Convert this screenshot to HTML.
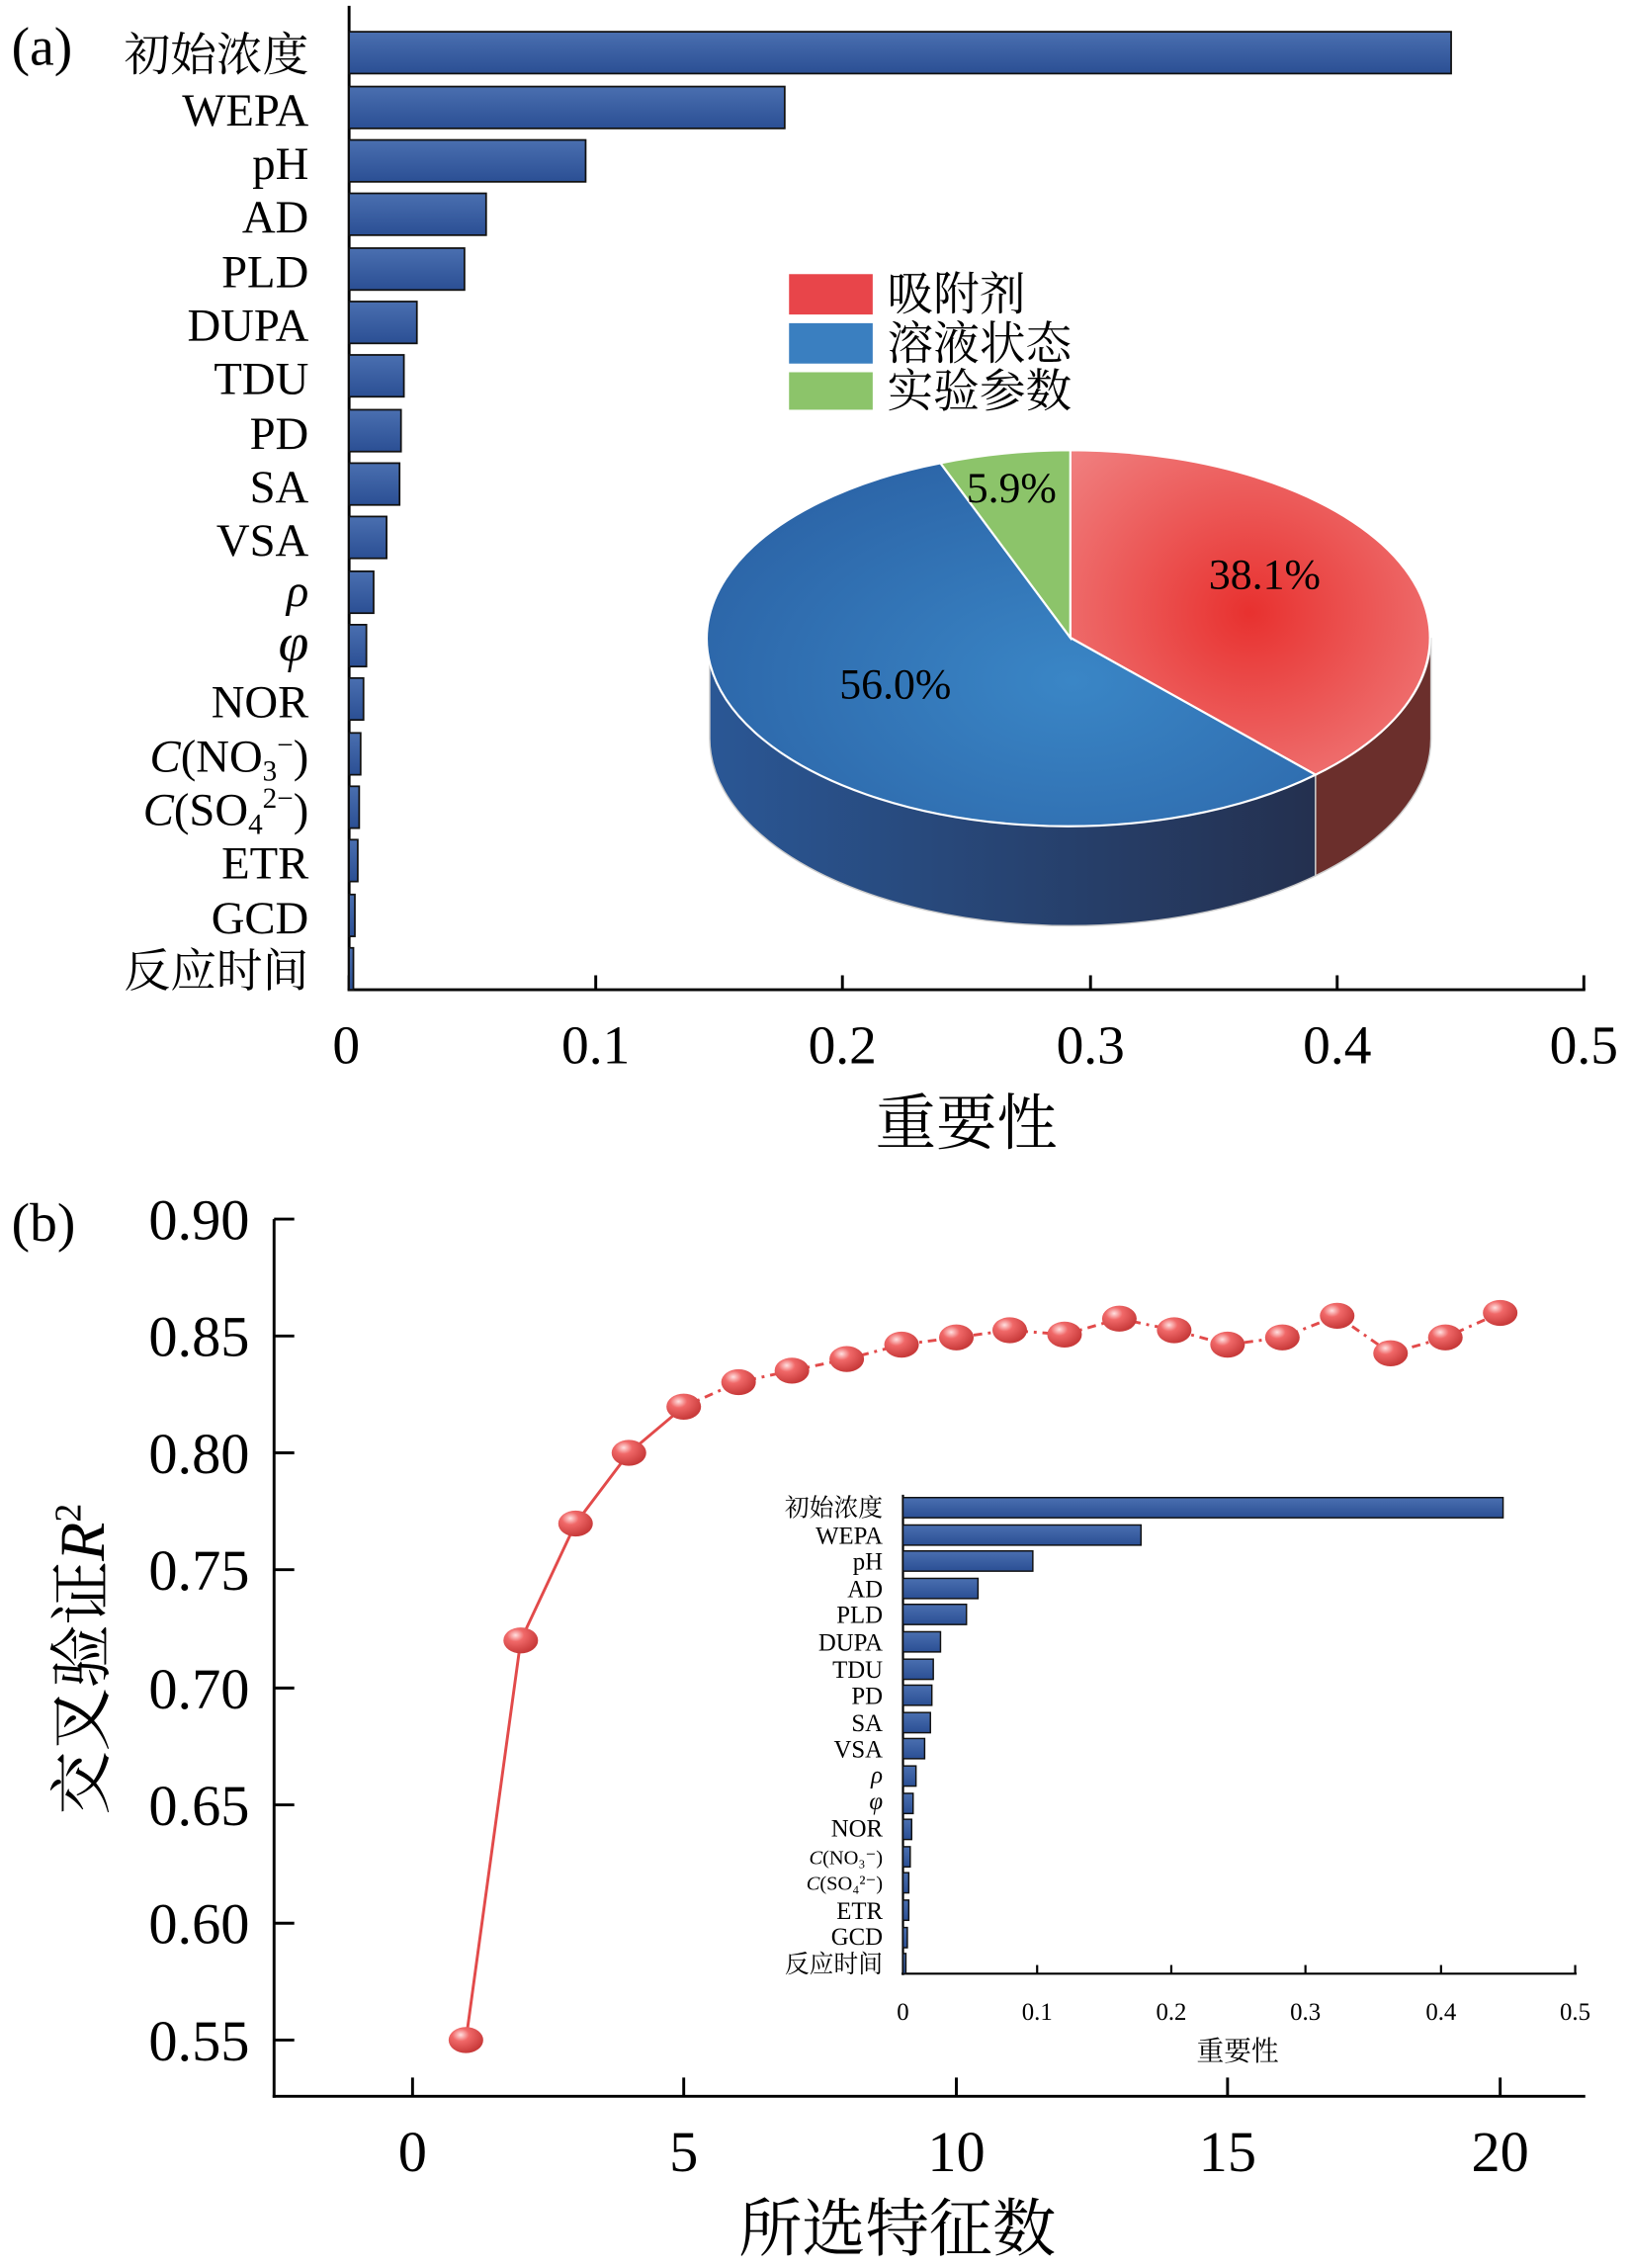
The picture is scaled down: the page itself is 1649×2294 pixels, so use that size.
<!DOCTYPE html>
<html><head><meta charset="utf-8"><style>html,body{margin:0;padding:0;background:#fff}svg{display:block}</style></head><body>
<svg width="1649" height="2294" viewBox="0 0 1130 1572" preserveAspectRatio="none" xmlns="http://www.w3.org/2000/svg" font-family="'Liberation Serif','Noto Serif CJK SC',serif">
<defs>
<linearGradient id="bar" x1="0" y1="0" x2="0" y2="1"><stop offset="0" stop-color="#4a6fb0"/><stop offset="1" stop-color="#2b4f94"/></linearGradient>
<radialGradient id="red" cx="0.5" cy="0.5" r="0.7"><stop offset="0" stop-color="#e8312f"/><stop offset="1" stop-color="#f08080"/></radialGradient>
<radialGradient id="blue" cx="0.6" cy="0.6" r="0.7"><stop offset="0" stop-color="#3a86c6"/><stop offset="1" stop-color="#2b63a6"/></radialGradient>
<linearGradient id="blueside" x1="0" y1="0" x2="1" y2="0"><stop offset="0" stop-color="#2a5795"/><stop offset="1" stop-color="#24304f"/></linearGradient>
<radialGradient id="ball" cx="0.35" cy="0.3" r="0.7"><stop offset="0" stop-color="#ffe0e0"/><stop offset="0.35" stop-color="#f06868"/><stop offset="1" stop-color="#c83a3a"/></radialGradient>
</defs>
<!-- Panel a -->
<text x="8" y="45" font-size="38">(a)</text>
<g stroke="#000" stroke-width="2" fill="none">
<line x1="242" y1="4" x2="242" y2="687"/><line x1="241" y1="686" x2="1099" y2="686"/>
<line x1="242" y1="686" x2="242" y2="676"/><line x1="413" y1="686" x2="413" y2="676"/><line x1="584" y1="686" x2="584" y2="676"/><line x1="756" y1="686" x2="756" y2="676"/><line x1="927" y1="686" x2="927" y2="676"/><line x1="1098" y1="686" x2="1098" y2="676"/>
</g>
<g font-size="38" text-anchor="middle">
<text x="240" y="737">0</text><text x="413" y="737">0.1</text><text x="584" y="737">0.2</text><text x="756" y="737">0.3</text><text x="927" y="737">0.4</text><text x="1098" y="737">0.5</text>
<text x="670" y="793" font-size="42">重要性</text>
</g>
<g fill="url(#bar)" stroke="#111" stroke-width="1.2">
<rect x="242" y="22" width="764" height="29"/>
<rect x="242" y="60" width="302" height="29"/>
<rect x="242" y="97" width="164" height="29"/>
<rect x="242" y="134" width="95" height="29"/>
<rect x="242" y="172" width="80" height="29"/>
<rect x="242" y="209" width="47" height="29"/>
<rect x="242" y="246" width="38" height="29"/>
<rect x="242" y="284" width="36" height="29"/>
<rect x="242" y="321" width="35" height="29"/>
<rect x="242" y="358" width="26" height="29"/>
<rect x="242" y="396" width="17" height="29"/>
<rect x="242" y="433" width="12" height="29"/>
<rect x="242" y="470" width="10" height="29"/>
<rect x="242" y="508" width="8" height="29"/>
<rect x="242" y="545" width="7" height="29"/>
<rect x="242" y="582" width="6" height="29"/>
<rect x="242" y="620" width="4" height="29"/>
<rect x="242" y="657" width="3" height="29"/>
</g>
<g font-size="32" text-anchor="end">
<text x="214" y="49">初始浓度</text>
<text x="214" y="87">WEPA</text>
<text x="214" y="124">pH</text>
<text x="214" y="161">AD</text>
<text x="214" y="199">PLD</text>
<text x="214" y="236">DUPA</text>
<text x="214" y="273">TDU</text>
<text x="214" y="311">PD</text>
<text x="214" y="348">SA</text>
<text x="214" y="385">VSA</text>
<text x="214" y="420" font-style="italic">ρ</text>
<text x="214" y="458" font-style="italic" font-size="38">φ</text>
<text x="214" y="497">NOR</text>
<text x="214" y="535"><tspan font-style="italic">C</tspan>(NO<tspan font-size="20" dy="6">3</tspan><tspan font-size="20" dy="-18">−</tspan><tspan dy="12">)</tspan></text>
<text x="214" y="572"><tspan font-style="italic">C</tspan>(SO<tspan font-size="20" dy="6">4</tspan><tspan font-size="20" dy="-18">2−</tspan><tspan dy="12">)</tspan></text>
<text x="214" y="609">ETR</text>
<text x="214" y="647">GCD</text>
<text x="214" y="684">反应时间</text>
</g>
<!-- pie -->
<path d="M492,442 L492,512 A250,130 0 0,0 912,607 L912,537 A250,130 0 0,1 492,442 Z" fill="url(#blueside)" stroke="#ccc" stroke-width="1"/>
<path d="M912,537 L912,607 A250,130 0 0,0 992,512 L992,442 A250,130 0 0,1 912,537 Z" fill="#6b2f2c" stroke="#ccc" stroke-width="1"/>
<path d="M742,442 L742,312 A250,130 0 0,1 912,537 Z" fill="url(#red)" stroke="#fff" stroke-width="1.5"/>
<path d="M742,442 L912,537 A250,130 0 1,1 652,321 Z" fill="url(#blue)" stroke="#fff" stroke-width="1.5"/>
<path d="M742,442 L652,321 A250,130 0 0,1 742,312 Z" fill="#8cc46a" stroke="#fff" stroke-width="1.5"/>
<g font-size="30"><text x="838" y="408">38.1%</text><text x="582" y="484">56.0%</text><text x="670" y="348">5.9%</text></g>
<rect x="547" y="190" width="58" height="28" fill="#e8454a"/>
<rect x="547" y="224" width="58" height="28" fill="#3a7fc0"/>
<rect x="547" y="258" width="58" height="26" fill="#8cc46a"/>
<g font-size="32"><text x="615" y="215">吸附剂</text><text x="615" y="249">溶液状态</text><text x="615" y="282">实验参数</text></g>

<!-- Panel b -->
<text x="8" y="860" font-size="38">(b)</text>
<g stroke="#000" stroke-width="2" fill="none">
<line x1="190" y1="845" x2="190" y2="1454"/><line x1="189" y1="1453" x2="1099" y2="1453"/>
<line x1="190" y1="845" x2="204" y2="845"/><line x1="190" y1="926" x2="204" y2="926"/><line x1="190" y1="1007" x2="204" y2="1007"/><line x1="190" y1="1088" x2="204" y2="1088"/><line x1="190" y1="1170" x2="204" y2="1170"/><line x1="190" y1="1251" x2="204" y2="1251"/><line x1="190" y1="1333" x2="204" y2="1333"/><line x1="190" y1="1414" x2="204" y2="1414"/>
<line x1="286" y1="1453" x2="286" y2="1440"/><line x1="474" y1="1453" x2="474" y2="1440"/><line x1="663" y1="1453" x2="663" y2="1440"/><line x1="851" y1="1453" x2="851" y2="1440"/><line x1="1040" y1="1453" x2="1040" y2="1440"/>
</g>
<g font-size="40" text-anchor="end">
<text x="173" y="859">0.90</text><text x="173" y="940">0.85</text><text x="173" y="1021">0.80</text><text x="173" y="1102">0.75</text><text x="173" y="1184">0.70</text><text x="173" y="1265">0.65</text><text x="173" y="1347">0.60</text><text x="173" y="1428">0.55</text>
</g>
<g font-size="40" text-anchor="middle">
<text x="286" y="1505">0</text><text x="474" y="1505">5</text><text x="663" y="1505">10</text><text x="851" y="1505">15</text><text x="1040" y="1505">20</text>
<text x="622" y="1560" font-size="44">所选特征数</text>
</g>
<text transform="translate(72,1150) rotate(-90)" font-size="44" text-anchor="middle">交叉验证<tspan font-style="italic">R</tspan><tspan font-size="26" dy="-16">2</tspan></text>
<polyline points="323,1414 361,1137 399,1056 436,1007 474,975" fill="none" stroke="#e24a4a" stroke-width="2"/>
<polyline points="474,975 512,958 549,950 587,942 625,932 663,927 700,922 738,925 776,914 814,922 851,932 889,927 927,912 964,938 1002,927 1040,910" fill="none" stroke="#e24a4a" stroke-width="2" stroke-dasharray="6,4,2,4"/>
<g fill="url(#ball)">
<ellipse cx="323" cy="1414" rx="12" ry="9"/><ellipse cx="361" cy="1137" rx="12" ry="9"/><ellipse cx="399" cy="1056" rx="12" ry="9"/><ellipse cx="436" cy="1007" rx="12" ry="9"/><ellipse cx="474" cy="975" rx="12" ry="9"/><ellipse cx="512" cy="958" rx="12" ry="9"/><ellipse cx="549" cy="950" rx="12" ry="9"/><ellipse cx="587" cy="942" rx="12" ry="9"/><ellipse cx="625" cy="932" rx="12" ry="9"/><ellipse cx="663" cy="927" rx="12" ry="9"/><ellipse cx="700" cy="922" rx="12" ry="9"/><ellipse cx="738" cy="925" rx="12" ry="9"/><ellipse cx="776" cy="914" rx="12" ry="9"/><ellipse cx="814" cy="922" rx="12" ry="9"/><ellipse cx="851" cy="932" rx="12" ry="9"/><ellipse cx="889" cy="927" rx="12" ry="9"/><ellipse cx="927" cy="912" rx="12" ry="9"/><ellipse cx="964" cy="938" rx="12" ry="9"/><ellipse cx="1002" cy="927" rx="12" ry="9"/><ellipse cx="1040" cy="910" rx="12" ry="9"/>
</g>
<!-- inset -->
<g stroke="#000" stroke-width="1.5" fill="none">
<line x1="626" y1="1036" x2="626" y2="1369"/><line x1="625" y1="1368" x2="1093" y2="1368"/>
<line x1="719" y1="1368" x2="719" y2="1362"/><line x1="812" y1="1368" x2="812" y2="1362"/><line x1="905" y1="1368" x2="905" y2="1362"/><line x1="999" y1="1368" x2="999" y2="1362"/><line x1="1092" y1="1368" x2="1092" y2="1362"/>
</g>
<g fill="url(#bar)" stroke="#111" stroke-width="1">
<rect x="626" y="1038" width="416" height="14"/>
<rect x="626" y="1057" width="165" height="14"/>
<rect x="626" y="1075" width="90" height="14"/>
<rect x="626" y="1094" width="52" height="14"/>
<rect x="626" y="1112" width="44" height="14"/>
<rect x="626" y="1131" width="26" height="14"/>
<rect x="626" y="1150" width="21" height="14"/>
<rect x="626" y="1168" width="20" height="14"/>
<rect x="626" y="1187" width="19" height="14"/>
<rect x="626" y="1205" width="15" height="14"/>
<rect x="626" y="1224" width="9" height="14"/>
<rect x="626" y="1243" width="7" height="14"/>
<rect x="626" y="1261" width="6" height="14"/>
<rect x="626" y="1280" width="5" height="14"/>
<rect x="626" y="1298" width="4" height="14"/>
<rect x="626" y="1317" width="4" height="14"/>
<rect x="626" y="1336" width="3" height="14"/>
<rect x="626" y="1354" width="2" height="14"/>
</g>
<g font-size="17" text-anchor="end">
<text x="612" y="1051">初始浓度</text><text x="612" y="1070">WEPA</text><text x="612" y="1088">pH</text><text x="612" y="1107">AD</text><text x="612" y="1125">PLD</text><text x="612" y="1144">DUPA</text><text x="612" y="1163">TDU</text><text x="612" y="1181">PD</text><text x="612" y="1200">SA</text><text x="612" y="1218">VSA</text><text x="612" y="1236" font-style="italic">ρ</text><text x="612" y="1254" font-style="italic">φ</text><text x="612" y="1273">NOR</text><text x="612" y="1292" font-size="14"><tspan font-style="italic">C</tspan>(NO₃⁻)</text><text x="612" y="1310" font-size="14"><tspan font-style="italic">C</tspan>(SO₄²⁻)</text><text x="612" y="1330">ETR</text><text x="612" y="1348">GCD</text><text x="612" y="1367">反应时间</text>
</g>
<g font-size="17" text-anchor="middle">
<text x="626" y="1400">0</text><text x="719" y="1400">0.1</text><text x="812" y="1400">0.2</text><text x="905" y="1400">0.3</text><text x="999" y="1400">0.4</text><text x="1092" y="1400">0.5</text>
<text x="858" y="1428" font-size="19">重要性</text>
</g>
</svg>
</body></html>
